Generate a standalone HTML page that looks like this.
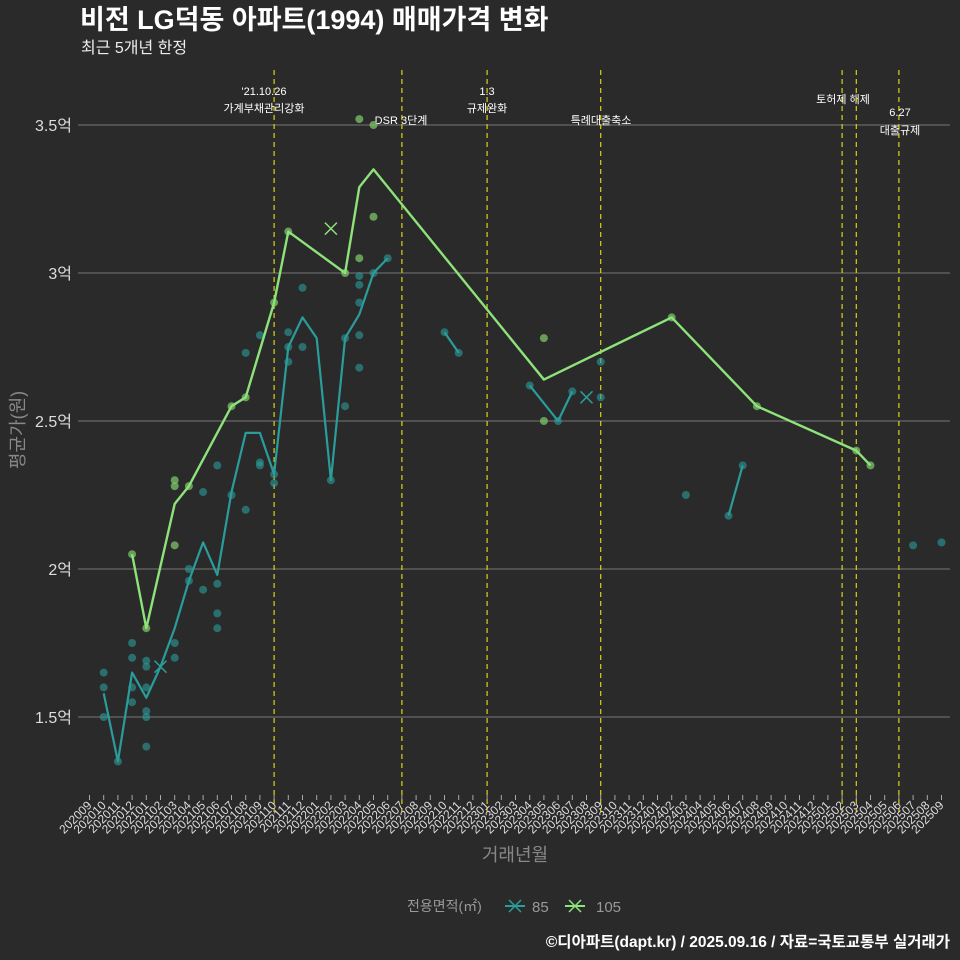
<!DOCTYPE html>
<html><head><meta charset="utf-8"><style>
html,body{margin:0;padding:0;background:#2b2a2b;}
svg{display:block;font-family:"Liberation Sans","Noto Sans CJK KR",sans-serif;}
</style></head><body>
<svg id="chart" width="960" height="960" viewBox="0 0 960 960">
<rect width="960" height="960" fill="#2b2a2b"/>
<text x="80" y="29" fill="#fff" font-size="27" font-weight="bold">비전 LG덕동 아파트(1994) 매매가격 변화</text>
<text x="81" y="53" fill="#eee" font-size="16">최근 5개년 한정</text>
<g id="grid"></g><g id="events"></g><g id="marks"></g><g id="xaxis"></g>
<text transform="translate(24,430) rotate(-90)" text-anchor="middle" fill="#888" font-size="18">평균가(원)</text>
<text x="515" y="861" text-anchor="middle" fill="#888" font-size="18">거래년월</text>
<g>
<text x="407" y="911" fill="#999" font-size="14">전용면적(㎡)</text>
<g><line x1="505" y1="906" x2="525" y2="906" stroke="#2a9d9b" stroke-width="2"/><path d="M509 900l12 12M521 900l-12 12" stroke="#2a9d9b" stroke-width="1.5"/><text x="532" y="912" fill="#999" font-size="15">85</text></g>
<g><line x1="565" y1="906" x2="585" y2="906" stroke="#8de27a" stroke-width="2"/><path d="M569 900l12 12M581 900l-12 12" stroke="#8de27a" stroke-width="1.5"/><text x="596" y="912" fill="#999" font-size="15">105</text></g>
</g>
<text x="950" y="947" text-anchor="end" fill="#fff" font-size="15.5" font-weight="bold">©디아파트(dapt.kr) / 2025.09.16 / 자료=국토교통부 실거래가</text>
</svg>
<script>
const months=[];for(let y=2020,m=9;months.length<61;){months.push(y+String(m).padStart(2,'0'));m++;if(m>12){m=1;y++;}}
const yTicks=[1.5,2,2.5,3,3.5];
const yTickLabels=["1.5억","2억","2.5억","3억","3.5억"];
const teal85Segments=[
 {idx:[1,2,3,4,5,6,7,8,9,10,11,12,13,14,15,16,17,18,19,20,21],val:[1.58,1.35,1.65,1.565,1.67,1.80,1.96,2.09,1.98,2.26,2.46,2.46,2.32,2.75,2.85,2.78,2.30,2.78,2.86,3.0,3.05]},
 {idx:[25,26],val:[2.80,2.73]},
 {idx:[31,33,34],val:[2.62,2.50,2.60]},
 {idx:[45,46],val:[2.18,2.35]}];
const green105Idx=[3,4,6,7,10,11,13,14,18,19,20,32,41,47,54,55];
const green105Val=[2.05,1.80,2.22,2.28,2.55,2.58,2.90,3.14,3.0,3.29,3.35,2.64,2.85,2.55,2.40,2.35];
const teal85DotIdx=[1,1,1,2,3,3,3,3,4,4,4,4,4,4,6,6,7,7,8,8,9,9,9,9,10,11,11,12,12,12,13,13,14,14,14,15,15,17,18,18,19,19,19,19,19,20,21,25,26,31,33,34,36,36,42,45,46,58,60];
const teal85DotVal=[1.65,1.60,1.50,1.35,1.75,1.70,1.60,1.55,1.69,1.67,1.60,1.52,1.50,1.40,1.75,1.70,2.0,1.96,2.26,1.93,2.35,1.95,1.85,1.80,2.25,2.73,2.20,2.79,2.36,2.35,2.32,2.29,2.80,2.75,2.70,2.95,2.75,2.30,2.78,2.55,2.99,2.96,2.90,2.79,2.68,3.0,3.05,2.80,2.73,2.62,2.50,2.60,2.70,2.58,2.25,2.18,2.35,2.08,2.09];
const green105DotIdx=[3,4,6,6,6,7,10,11,13,14,18,19,19,20,20,32,32,41,47,54,55];
const green105DotVal=[2.05,1.80,2.30,2.28,2.08,2.28,2.55,2.58,2.90,3.14,3.0,3.52,3.05,3.5,3.19,2.78,2.50,2.85,2.55,2.40,2.35];
const crossIdx=[5,17,35];const crossVal=[1.67,3.15,2.58];const crossSeries=["85","105","85"];
const eventIdx=[13,22,28,36,53,54,57];
const eventLabels=[["'21.10.26","가계부채관리강화"],["DSR 3단계"],["1.3","규제완화"],["특례대출축소"],["토허제 해제"],[],["6.27","대출규제"]];
const eventLabelY=[[95,112],[124],[95,112],[124],[103],[],[116,134]];

const NS="http://www.w3.org/2000/svg";
const X=i=>89.5+i*14.2, Y=v=>717-(v-1.5)*296;
function mk(p,t,a){const e=document.createElementNS(NS,t);for(const k in a)e.setAttribute(k,a[k]);p.appendChild(e);return e;}
const grid=document.getElementById('grid'),ev=document.getElementById('events'),mg=document.getElementById('marks'),xa=document.getElementById('xaxis');
yTicks.forEach((v,i)=>{
 const l=mk(grid,'line',{x1:78,x2:950,y1:Y(v),y2:Y(v),stroke:'#777','stroke-width':1});
 
 
 const t=mk(grid,'text',{x:72,y:Y(v)+6,'text-anchor':'end',fill:'#ddd','font-size':16});t.textContent=yTickLabels[i];
 
 
});
eventIdx.forEach((m,i)=>{
 const l=mk(ev,'line',{x1:X(m),x2:X(m),y1:70,y2:812,stroke:'#d4d41a','stroke-width':1.2,'stroke-dasharray':'5,4'});
 
 
 const xs=[264,401,487,601,843,0,900][i];
 eventLabels[i].forEach((s,j)=>{const t=mk(ev,'text',{x:xs,y:eventLabelY[i][j],'text-anchor':'middle',fill:'#fff','font-size':11});t.textContent=s;
  
  });
});
const TEAL='#2a9d9b',GREEN='#8de27a';
teal85DotIdx.forEach((m,i)=>{const c=mk(mg,'circle',{cx:X(m),cy:Y(teal85DotVal[i]),r:4,fill:TEAL,'fill-opacity':0.6});
 
 });
green105DotIdx.forEach((m,i)=>{const c=mk(mg,'circle',{cx:X(m),cy:Y(green105DotVal[i]),r:4,fill:'#7cc46a','fill-opacity':0.75});
 
 });
teal85Segments.forEach(s=>{const p=mk(mg,'polyline',{points:s.idx.map((m,i)=>X(m)+','+Y(s.val[i])).join(' '),fill:'none',stroke:TEAL,'stroke-width':2.2,'stroke-linejoin':'round'});
 
 });
const gp=mk(mg,'polyline',{points:green105Idx.map((m,i)=>X(m)+','+Y(green105Val[i])).join(' '),fill:'none',stroke:GREEN,'stroke-width':2.4,'stroke-linejoin':'round'});


crossIdx.forEach((m,i)=>{const x=X(m),y=Y(crossVal[i]);
 const p=mk(mg,'path',{d:`M${x-6} ${y-6}l12 12M${x+6} ${y-6}l-12 12`,stroke:crossSeries[i]==='85'?TEAL:GREEN,'stroke-width':1.5});
 
 });
months.forEach((s,i)=>{const x=X(i);
 mk(xa,'line',{x1:x,x2:x,y1:795,y2:800,stroke:'#aaa'});
 const t=mk(xa,'text',{x:x+3,y:806,'text-anchor':'end',fill:'#ddd','font-size':12,transform:`rotate(-45 ${x+3} 806)`});t.textContent=s;
 
 });
</script>
</body></html>
